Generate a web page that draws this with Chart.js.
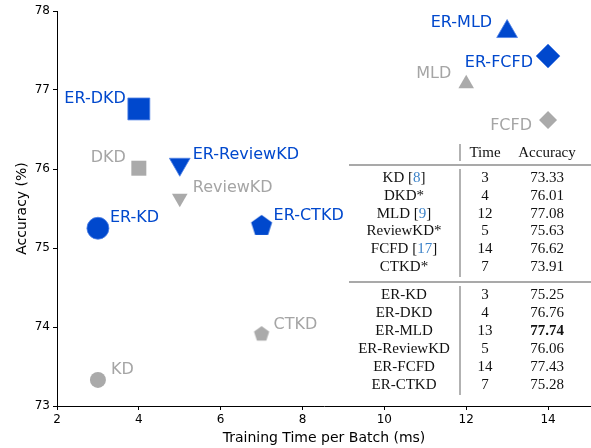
<!DOCTYPE html>
<html>
<head>
<meta charset="utf-8">
<script src="https://cdn.jsdelivr.net/npm/chart.js@4.4.1/dist/chart.umd.min.js"></script>
<style>
  html, body { margin: 0; padding: 0; background: #fff; }
  #wrap { width: 591px; height: 448px; }
</style>
</head>
<body>
<div id="wrap"><canvas id="accChart" width="591" height="448"></canvas></div>
<script>
'use strict';

// data
const methods = ['KD', 'DKD', 'MLD', 'ReviewKD', 'FCFD', 'CTKD'];
const refs = ['8', '', '9', '', '17', ''];
const baseTime = [3, 4, 12, 5, 14, 7];
const baseAcc = [73.33, 76.01, 77.08, 75.63, 76.62, 73.91];
const erTime = [3, 4, 13, 5, 14, 7];
const erAcc = [75.25, 76.76, 77.74, 76.06, 77.43, 75.28];
const xTicks = [2, 4, 6, 8, 10, 12, 14];
const yTicks = [73, 74, 75, 76, 77, 78];

// styles
const BLUE = 'rgb(0, 72, 205)';
const GRAY = 'rgb(170, 170, 170)';
const GRAY_TEXT = 'rgb(165, 165, 165)';
const REF_BLUE = 'rgb(60, 130, 200)';
const markerStyles = ['circle', 'rect', 'triangle', 'triangle', 'rectRot', 'pentagon'];
const markerRotation = [0, 0, 0, 180, 0, 0];
const baseRadius = [8, 10.6, 9, 9, 9, 8];
const erRadius = [11, 15.5, 12, 12, 12, 11];
// label placement relative to marker: [dx, dy, align]
const baseLabelPos = [[13, -10, 'left'], [-13, -10, 'right'], [-15, -10, 'right'],
                      [13, -10, 'left'], [-16, 6, 'right'], [12, -9, 'left']];
const erLabelPos = [[12, -10, 'left'], [-13, -10, 'right'], [-15, -9, 'right'],
                    [13, -9, 'left'], [-15, 7, 'right'], [12, -10, 'left']];

function pentagon(r, color) {
    const c = document.createElement('canvas');
    const s = Math.ceil(2 * r + 2);
    c.width = s;
    c.height = s;
    const g = c.getContext('2d');
    g.beginPath();
    for (let i = 0; i < 5; i++) {
        const a = -Math.PI / 2 + i * 2 * Math.PI / 5;
        const px = s / 2 + r * Math.cos(a);
        const py = s / 2 + r * Math.sin(a);
        if (i === 0) g.moveTo(px, py); else g.lineTo(px, py);
    }
    g.closePath();
    g.fillStyle = color;
    g.fill();
    return c;
}

function stylesFor(radius, color) {
    return markerStyles.map((m, i) => m === 'pentagon' ? pentagon(radius[i], color) : m);
}

const pointLabels = {
    id: 'pointLabels',
    afterDatasetsDraw(chart) {
        const ctx = chart.ctx;
        ctx.save();
        ctx.font = '16px "DejaVu Sans"';
        ctx.textBaseline = 'middle';
        chart.data.datasets.forEach((ds, di) => {
            const meta = chart.getDatasetMeta(di);
            const pos = di === 0 ? baseLabelPos : erLabelPos;
            ctx.fillStyle = di === 0 ? GRAY_TEXT : BLUE;
            meta.data.forEach((pt, i) => {
                const text = di === 0 ? methods[i] : 'ER-' + methods[i];
                ctx.textAlign = pos[i][2];
                ctx.fillText(text, pt.x + pos[i][0], pt.y + pos[i][1]);
            });
        });
        ctx.restore();
    }
};

const resultTable = {
    id: 'resultTable',
    afterDraw(chart) {
        const ctx = chart.ctx;
        const nameX = 404, timeX = 485, accX = 547;
        const ink = '#111';
        ctx.save();
        ctx.font = '15px "Liberation Serif"';
        ctx.textBaseline = 'middle';
        ctx.fillStyle = ink;
        ctx.textAlign = 'center';
        ctx.fillText('Time', timeX, 153);
        ctx.fillText('Accuracy', accX, 153);

        // rules
        ctx.strokeStyle = '#555';
        ctx.lineWidth = 1.2;
        ctx.beginPath();
        ctx.moveTo(349, 165); ctx.lineTo(591, 165);
        ctx.moveTo(349, 282); ctx.lineTo(591, 282);
        ctx.stroke();
        ctx.strokeStyle = '#999';
        ctx.lineWidth = 1.5;
        ctx.beginPath();
        ctx.moveTo(460, 144); ctx.lineTo(460, 161);
        ctx.moveTo(460, 169); ctx.lineTo(460, 277);
        ctx.moveTo(460, 286); ctx.lineTo(460, 395);
        ctx.stroke();

        const best = Math.max(...erAcc);
        methods.forEach((m, i) => {
            const y = 178 + i * 17.8;
            const parts = refs[i] ? [[m + ' [', ink], [refs[i], REF_BLUE], [']', ink]] : [[m + '*', ink]];
            const total = parts.reduce((s, p) => s + ctx.measureText(p[0]).width, 0);
            let x = nameX - total / 2;
            ctx.textAlign = 'left';
            parts.forEach(p => {
                ctx.fillStyle = p[1];
                ctx.fillText(p[0], x, y);
                x += ctx.measureText(p[0]).width;
            });
            ctx.fillStyle = ink;
            ctx.textAlign = 'center';
            ctx.fillText(String(baseTime[i]), timeX, y);
            ctx.fillText(baseAcc[i].toFixed(2), accX, y);
        });
        methods.forEach((m, i) => {
            const y = 295 + i * 18;
            ctx.fillStyle = ink;
            ctx.textAlign = 'center';
            ctx.font = '15px "Liberation Serif"';
            ctx.fillText('ER-' + m, nameX, y);
            ctx.fillText(String(erTime[i]), timeX, y);
            if (erAcc[i] === best) ctx.font = 'bold 15px "Liberation Serif"';
            ctx.fillText(erAcc[i].toFixed(2), accX, y);
        });
        ctx.restore();
    }
};

const axisFont = { family: 'DejaVu Sans', size: 12 };
const titleFont = { family: 'DejaVu Sans', size: 14 };

new Chart(document.getElementById('accChart'), {
    type: 'scatter',
    data: {
        datasets: [{
            label: 'Baseline',
            data: baseTime.map((t, i) => ({ x: t, y: baseAcc[i] })),
            pointStyle: stylesFor(baseRadius, GRAY),
            pointRadius: baseRadius,
            pointRotation: markerRotation,
            backgroundColor: GRAY,
            borderColor: GRAY,
            borderWidth: 0,
            clip: false
        }, {
            label: 'ER',
            data: erTime.map((t, i) => ({ x: t, y: erAcc[i] })),
            pointStyle: stylesFor(erRadius, BLUE),
            pointRadius: erRadius,
            pointRotation: markerRotation,
            backgroundColor: BLUE,
            borderColor: 'rgba(80, 130, 230, 0.8)',
            borderWidth: 1,
            clip: false
        }]
    },
    options: {
        responsive: false,
        animation: false,
        events: [],
        layout: { autoPadding: false, padding: { top: 11, right: 0, left: 0, bottom: 0 } },
        plugins: {
            legend: { display: false },
            tooltip: { enabled: false }
        },
        scales: {
            x: {
                type: 'linear',
                min: 2,
                max: 15.05,
                afterBuildTicks: s => { s.ticks = xTicks.map(v => ({ value: v })); },
                afterFit: s => {
                    s.height = 42;
                    s.paddingLeft = 0;
                    s.paddingRight = 0;
                },
                grid: { drawOnChartArea: false, drawTicks: true, tickLength: 4, color: '#000' },
                border: { display: true, color: '#000', width: 1 },
                ticks: { color: '#000', font: axisFont, padding: 3, maxRotation: 0 },
                title: {
                    display: true, text: 'Training Time per Batch (ms)', color: '#000',
                    font: titleFont, padding: { top: 0, bottom: 1 }
                }
            },
            y: {
                type: 'linear',
                min: 73,
                max: 78,
                afterBuildTicks: s => { s.ticks = yTicks.map(v => ({ value: v })); },
                afterFit: s => {
                    s.width = 57;
                    s.paddingTop = 0;
                    s.paddingBottom = 0;
                },
                grid: { drawOnChartArea: false, drawTicks: true, tickLength: 4, color: '#000' },
                border: { display: true, color: '#000', width: 1 },
                ticks: { color: '#000', font: axisFont, padding: 3 },
                title: {
                    display: true, text: 'Accuracy (%)', color: '#000',
                    font: titleFont, padding: { top: 14, bottom: 0 }
                }
            }
        }
    },
    plugins: [pointLabels, resultTable]
});
</script>
</body>
</html>
